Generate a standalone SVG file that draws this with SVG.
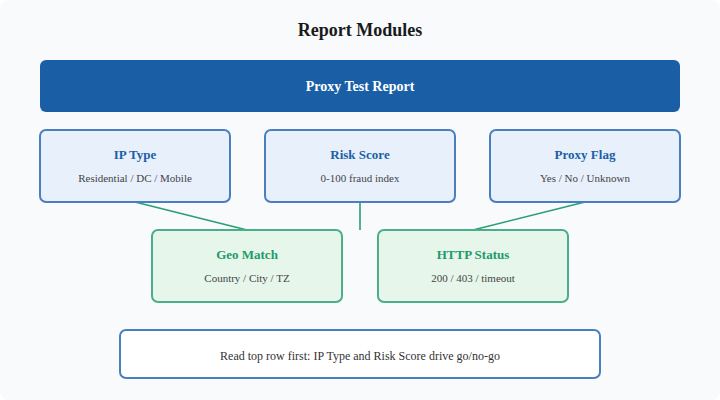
<svg xmlns="http://www.w3.org/2000/svg" width="720" height="400" viewBox="0 0 720 400">
<style>
.title{font-family:"Liberation Serif",serif;font-weight:bold;font-size:18px;fill:#1a1a1a;text-anchor:middle}
.banner-t{font-family:"Liberation Serif",serif;font-weight:bold;font-size:14px;fill:#ffffff;text-anchor:middle}
.top rect{fill:#e8f0fc;stroke:#4a7fbf;stroke-width:2}
.bot rect{fill:#e6f6ea;stroke:#4aaf88;stroke-width:2}
.h{font-family:"Liberation Serif",serif;font-weight:bold;font-size:13px;text-anchor:middle}
.top .h{fill:#1a5fa6}
.bot .h{fill:#1f9a6a}
.s{font-family:"Liberation Serif",serif;font-size:11px;fill:#444444;text-anchor:middle}
.conn line{stroke:#2a9d74;stroke-width:1.6}
.note-t{font-family:"Liberation Serif",serif;font-size:12px;fill:#333333;text-anchor:middle}
</style>
<rect x="0" y="0" width="720" height="400" rx="8" fill="#f8fafc"/>
<text class="title" x="360" y="36">Report Modules</text>
<g id="banner">
<rect x="40" y="60" width="640" height="52" rx="6" fill="#1a5fa6"/>
<text class="banner-t" x="360" y="91">Proxy Test Report</text>
</g>
<g id="conns" class="conn">
<line x1="135" y1="202" x2="247" y2="230"/>
<line x1="360" y1="202" x2="360" y2="230"/>
<line x1="585" y1="202" x2="473" y2="230"/>
</g>
<g id="ip-type" class="top">
<rect x="40" y="130" width="190" height="72" rx="6"/>
<text class="h" x="135" y="159">IP Type</text>
<text class="s" x="135" y="182">Residential / DC / Mobile</text>
</g>
<g id="risk-score" class="top">
<rect x="265" y="130" width="190" height="72" rx="6"/>
<text class="h" x="360" y="159">Risk Score</text>
<text class="s" x="360" y="182">0-100 fraud index</text>
</g>
<g id="proxy-flag" class="top">
<rect x="490" y="130" width="190" height="72" rx="6"/>
<text class="h" x="585" y="159">Proxy Flag</text>
<text class="s" x="585" y="182">Yes / No / Unknown</text>
</g>
<g id="geo-match" class="bot">
<rect x="152" y="230" width="190" height="72" rx="6"/>
<text class="h" x="247" y="259">Geo Match</text>
<text class="s" x="247" y="282">Country / City / TZ</text>
</g>
<g id="http-status" class="bot">
<rect x="378" y="230" width="190" height="72" rx="6"/>
<text class="h" x="473" y="259">HTTP Status</text>
<text class="s" x="473" y="282">200 / 403 / timeout</text>
</g>
<g id="note">
<rect x="120" y="330" width="480" height="48" rx="6" fill="#ffffff" stroke="#4a7fbf" stroke-width="2"/>
<text class="note-t" x="360" y="360">Read top row first: IP Type and Risk Score drive go/no-go</text>
</g>
</svg>
